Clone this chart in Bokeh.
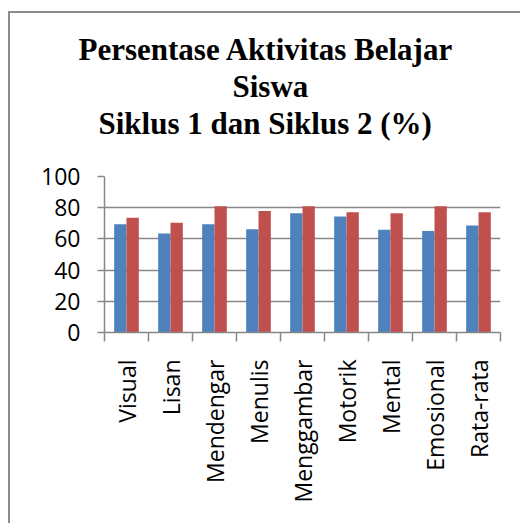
from bokeh.plotting import figure
from bokeh.models import FixedTicker, Title, Range1d, ColumnDataSource
from bokeh.embed import file_html
from bokeh.resources import INLINE

categories = ["Visual", "Lisan", "Mendengar", "Menulis", "Menggambar",
              "Motorik", "Mental", "Emosional", "Rata-rata"]
siklus1 = [69.4, 63.5, 69.4, 66.2, 76.5, 74.4, 65.8, 65.0, 68.6]
siklus2 = [73.5, 70.3, 80.9, 77.9, 80.9, 77.1, 76.5, 80.9, 77.1]
y_ticks = [0, 20, 40, 60, 80, 100]
title_lines = ["Persentase Aktivitas Belajar", "Siswa", "Siklus 1 dan Siklus 2 (%)"]
title_offsets = [-26, 128, -6]

BLUE = "#4F81BD"
RED = "#C0504D"
GRID = "#888888"

n = len(categories)
pos = [i + 0.5 for i in range(n)]
src = ColumnDataSource(dict(x1=[p_ - 0.14 for p_ in pos], x2=[p_ + 0.14 for p_ in pos],
                            s1=siklus1, s2=siklus2))

p = figure(width=512, height=512, output_backend="svg", toolbar_location=None,
           x_range=Range1d(0, n), y_range=Range1d(0, 100),
           min_border_left=94, min_border_right=22, min_border_top=163, min_border_bottom=193)
p.outline_line_color = None
p.background_fill_color = "white"
p.border_fill_color = "white"
p.styles = {"margin-left": "8px", "margin-top": "11px",
            "border-left": "2px solid #8c8c8c", "border-top": "2px solid #8c8c8c"}

p.vbar(x="x1", top="s1", width=0.28, source=src, fill_color=BLUE, line_color=None)
p.vbar(x="x2", top="s2", width=0.28, source=src, fill_color=RED, line_color=None)

# y axis
p.yaxis.ticker = FixedTicker(ticks=y_ticks)
p.yaxis.axis_line_color = GRID
p.yaxis.axis_line_width = 1.5
p.yaxis.major_tick_line_color = GRID
p.yaxis.major_tick_line_width = 1.5
p.yaxis.major_tick_in = 0
p.yaxis.major_tick_out = 7
p.yaxis.minor_tick_line_color = None
p.yaxis.major_label_text_font = "Open Sans"
p.yaxis.major_label_text_font_size = "23px"
p.yaxis.major_label_text_color = "black"
p.yaxis.major_label_standoff = 17
p.ygrid.ticker = FixedTicker(ticks=y_ticks)
p.ygrid.grid_line_color = GRID
p.ygrid.grid_line_width = 1.5

# x axis: labels at centres, tick marks at boundaries
p.xaxis.ticker = FixedTicker(ticks=pos, minor_ticks=list(range(n + 1)))
p.xaxis.major_label_overrides = {v: c for v, c in zip(pos, categories)}
p.xaxis.major_label_orientation = 3.14159265 / 2
p.xaxis.major_tick_line_color = None
p.xaxis.major_tick_out = 6
p.xaxis.minor_tick_line_color = GRID
p.xaxis.minor_tick_line_width = 1.5
p.xaxis.minor_tick_in = 0
p.xaxis.minor_tick_out = 9
p.xaxis.axis_line_color = GRID
p.xaxis.axis_line_width = 1.5
p.xaxis.major_label_text_font = "Open Sans"
p.xaxis.major_label_text_font_size = "23px"
p.xaxis.major_label_text_color = "black"
p.xaxis.major_label_standoff = 18
p.xgrid.grid_line_color = None

# title lines, stacked outward from the plot frame (spacer first)
p.add_layout(Title(text=" ", text_font="Liberation Serif", text_font_size="21px"), "above")
for t, off in reversed(list(zip(title_lines, title_offsets))):
    p.add_layout(Title(text=t, align="left", offset=off, standoff=0,
                       text_font="Liberation Serif", text_font_style="bold",
                       text_font_size="31px", text_color="black"), "above")

open("out.html", "w").write(file_html(p, INLINE))
